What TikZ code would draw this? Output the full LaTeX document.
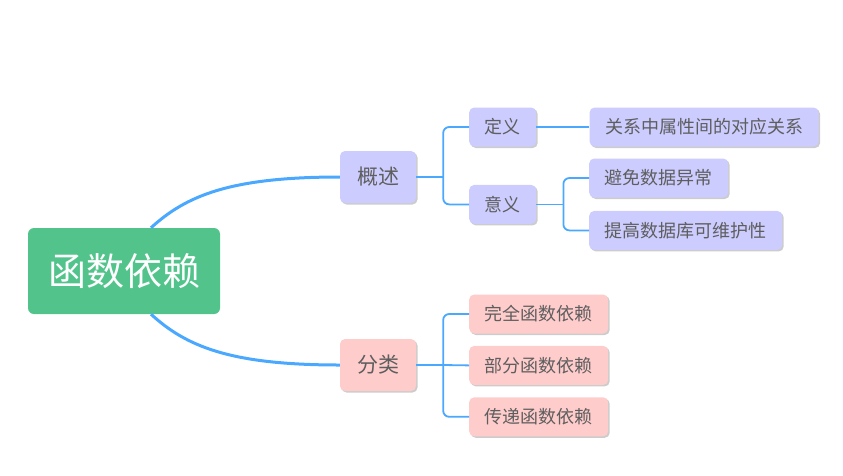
\documentclass[tikz,border=0pt]{standalone}
\usepackage{fontspec}
\newfontfamily\cjk{Noto Sans CJK SC}
\usetikzlibrary{positioning, shadows}

\definecolor{wurzelgruen}{HTML}{52C48B}
\definecolor{lila}{HTML}{CCCCFF}
\definecolor{rosa}{HTML}{FFCCCC}
\definecolor{linie}{HTML}{4AA8FF}
\definecolor{schrift}{HTML}{5E5E5E}

\tikzset{
    wurzel/.style={rectangle, rounded corners=6pt, fill=wurzelgruen, text=white,
        font=\cjk\fontsize{38}{40}\selectfont, minimum width=192pt, minimum height=86pt, inner sep=0pt},
    knoten/.style={rectangle, rounded corners=5pt, text=schrift, inner ysep=0pt,
        drop shadow={shadow xshift=1.5pt, shadow yshift=-1.5pt, fill=black!40}},
    ast/.style={knoten, font=\cjk\fontsize{21}{24}\selectfont, inner xsep=17pt, minimum height=52pt},
    blatt/.style={knoten, font=\cjk\fontsize{18}{20}\selectfont, inner xsep=15.5pt, minimum height=39pt},
    haupt/.style={draw=linie, line width=3pt},
    zweig/.style={draw=linie, line width=1.8pt, rounded corners=6pt},
}

\begin{document}
\begin{tikzpicture}[x=1pt, y=-1pt]
        \useasboundingbox (0,0) rectangle (843,475);

        %Mitte
        \node[wurzel](fd) at (124,271){函数依赖};

        %Zweig oben
        \node[ast, fill=lila](gs) at (378,177){概述};
        \node[blatt, fill=lila, anchor=west](dy) at (469,127){定义};
        \node[blatt, fill=lila, below = 38pt of dy](yy){意义};
        \node[blatt, fill=lila, right = 53pt of dy](gx){关系中属性间的对应关系};
        \node[blatt, fill=lila, anchor=west](bm) at (589,178){避免数据异常};
        \node[blatt, fill=lila, below = 13pt of bm.south west, anchor=north west](tg){提高数据库可维护性};

        %Zweig unten
        \node[ast, fill=rosa](fl) at (378,365){分类};
        \node[blatt, fill=rosa, anchor=west](wq) at (469,314){完全函数依赖};
        \node[blatt, fill=rosa, below = 12pt of wq](bf){部分函数依赖};
        \node[blatt, fill=rosa, below = 12pt of bf](cd){传递函数依赖};

        \coordinate[right = 27pt of gs.east](gk);
        \coordinate[right = 27pt of yy.east](yk);
        \coordinate[right = 27pt of fl.east](fk);

        \draw[haupt]([xshift=27pt]fd.north) .. controls +(35,-32) and +(-110,0) .. (gs.west);
        \draw[haupt]([xshift=27pt]fd.south) .. controls +(35,32) and +(-110,0) .. (fl.west);

        \draw[zweig](gs.east) -- (gk);
        \draw[zweig](dy.west) -| (gk) |- (yy.west);
        \draw[zweig](dy.east) -- (gx.west);
        \draw[zweig](yy.east) -- (yk);
        \draw[zweig](bm.west) -| (yk) |- (tg.west);

        \draw[zweig](fl.east) -- (fk);
        \draw[zweig](wq.west) -| (fk) |- (cd.west);
        \draw[zweig](fk) -- (bf.west);

    \end{tikzpicture}
\end{document}
